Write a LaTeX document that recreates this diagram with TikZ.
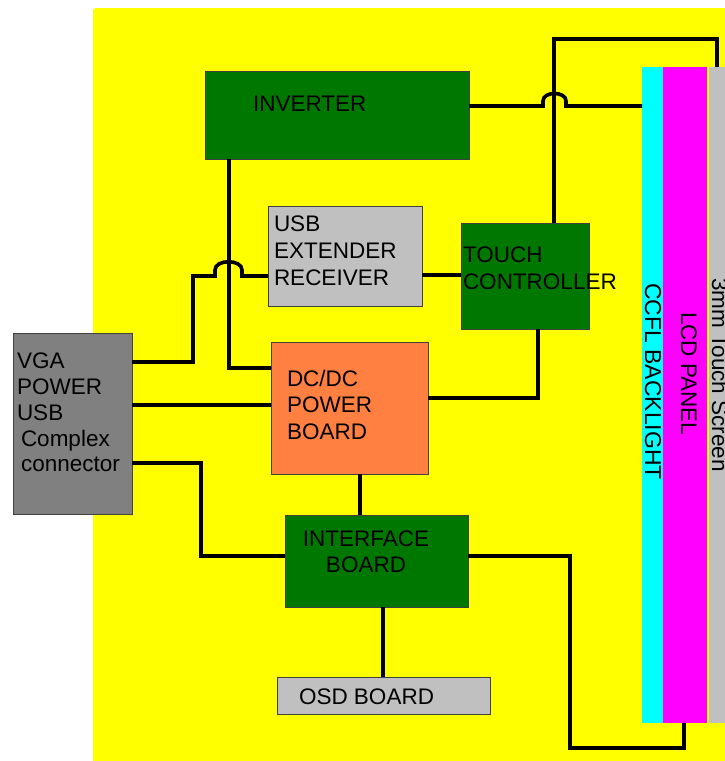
\documentclass[tikz,border=0pt]{standalone}
\usepackage{fontspec}
\setmainfont{Liberation Sans}
\definecolor{bgyellow}{RGB}{255,255,0}
\definecolor{boxgreen}{RGB}{0,120,0}
\definecolor{boxorange}{RGB}{255,128,64}
\definecolor{boxlight}{RGB}{192,192,192}
\definecolor{boxdark}{RGB}{128,128,128}
\definecolor{stripcyan}{RGB}{0,255,255}
\definecolor{stripmag}{RGB}{255,0,255}
\begin{document}
\begin{tikzpicture}[x=1pt,y=-1pt,
  box/.style={draw=black!75,line width=1pt,inner sep=0pt,outer sep=0pt},
  strip/.style={inner sep=0pt,outer sep=0pt},
  lbl/.style={inner sep=0pt,outer sep=0pt,font={\fontsize{22.5}{27}\selectfont}},
  wire/.style={line width=3.6pt,line join=miter,black}]
\useasboundingbox (0,0) rectangle (725,761);
\fill[bgyellow,rounded corners=3pt] (93,8) rectangle (740,775);
% boxes
\node[box,fill=boxgreen,minimum width=264,minimum height=88] (inv) at (337,115) {};
\node[box,fill=boxlight,minimum width=154,minimum height=100] (usb) at (345,256) {};
\node[box,fill=boxgreen,minimum width=128,minimum height=106] (touch) at (525,276) {};
\node[box,fill=boxdark,minimum width=119,minimum height=181] (vga) at (72.5,423.5) {};
\node[box,fill=boxorange,minimum width=157,minimum height=132] (dcdc) at (349.5,408) {};
\node[box,fill=boxgreen,minimum width=183,minimum height=92] (iface) at (376.5,561) {};
\node[box,fill=boxlight,minimum width=213,minimum height=37] (osd) at (383.5,695.5) {};
% strips
\node[strip,fill=stripcyan,minimum width=21,minimum height=656] (ccfl) at (652.5,395) {};
\node[strip,fill=stripmag,minimum width=44,minimum height=656] (lcd) at (685,395) {};
\node[strip,fill=boxlight,minimum width=16,minimum height=656] (ts) at (717,395) {};
% labels
\node[lbl,anchor=base west] (tinv) at (253,111) {INVERTER};
\node[lbl,anchor=north west,align=left] (tusb) at (274,216) {USB\\EXTENDER\\RECEIVER};
\node[lbl,anchor=north west,align=left] (ttouch) at (463,247) {TOUCH\\CONTROLLER};
\node[lbl,anchor=north west,align=left,font={\fontsize{22.5}{25.8}\selectfont}] (tvga) at (17,353) {VGA\\POWER\\USB\\\hspace*{4pt}Complex\\\hspace*{4pt}connector};
\node[lbl,anchor=north west,align=left,font={\fontsize{22.5}{26.5}\selectfont}] (tdcdc) at (287,370) {DC/DC\\POWER\\BOARD};
\node[lbl,anchor=north,align=center,font={\fontsize{22.5}{26}\selectfont}] (tiface) at (366,531) {INTERFACE\\BOARD};
\node[lbl,anchor=base west] (tosd) at (299,704) {OSD BOARD};
\node[lbl,anchor=base west,rotate=-90,font={\fontsize{23}{27}\selectfont}] (tccfl) at (645,283) {CCFL BACKLIGHT};
\node[lbl,anchor=base west,rotate=-90] (tlcd) at (681,312) {LCD PANEL};
\node[lbl,anchor=base west,rotate=-90] (tts) at (712,278) {3mm Touch Screen};
% wires
\draw[wire] (inv.east |- 0,106) -- (543,106) -- (543,101) .. controls (543,91) and (566,91) .. (566,101) -- (566,106) -- (ccfl.west |- 0,106);
\draw[wire] (touch.north -| 554,0) -- (554,39) -- (717,39) -- (ts.north -| 717,0);
\draw[wire] (inv.south -| 229,0) -- (229,368) -- (dcdc.west |- 0,368);
\draw[wire] (vga.east |- 0,362) -- (193,362) -- (193,276) -- (215,276) -- (215,270) .. controls (215,259) and (242,259) .. (242,270) -- (242,276) -- (usb.west |- 0,276);
\draw[wire] (usb.east |- 0,275) -- (touch.west |- 0,275);
\draw[wire] (vga.east |- 0,405) -- (dcdc.west |- 0,405);
\draw[wire] (vga.east |- 0,463) -- (201,463) -- (201,556) -- (iface.west |- 0,556);
\draw[wire] (touch.south -| 538,0) -- (538,398) -- (dcdc.east |- 0,398);
\draw[wire] (dcdc.south -| 360,0) -- (iface.north -| 360,0);
\draw[wire] (iface.east |- 0,556) -- (570,556) -- (570,748) -- (684,748) -- (lcd.south -| 684,0);
\draw[wire] (iface.south -| 383,0) -- (osd.north -| 383,0);
\end{tikzpicture}
\end{document}
